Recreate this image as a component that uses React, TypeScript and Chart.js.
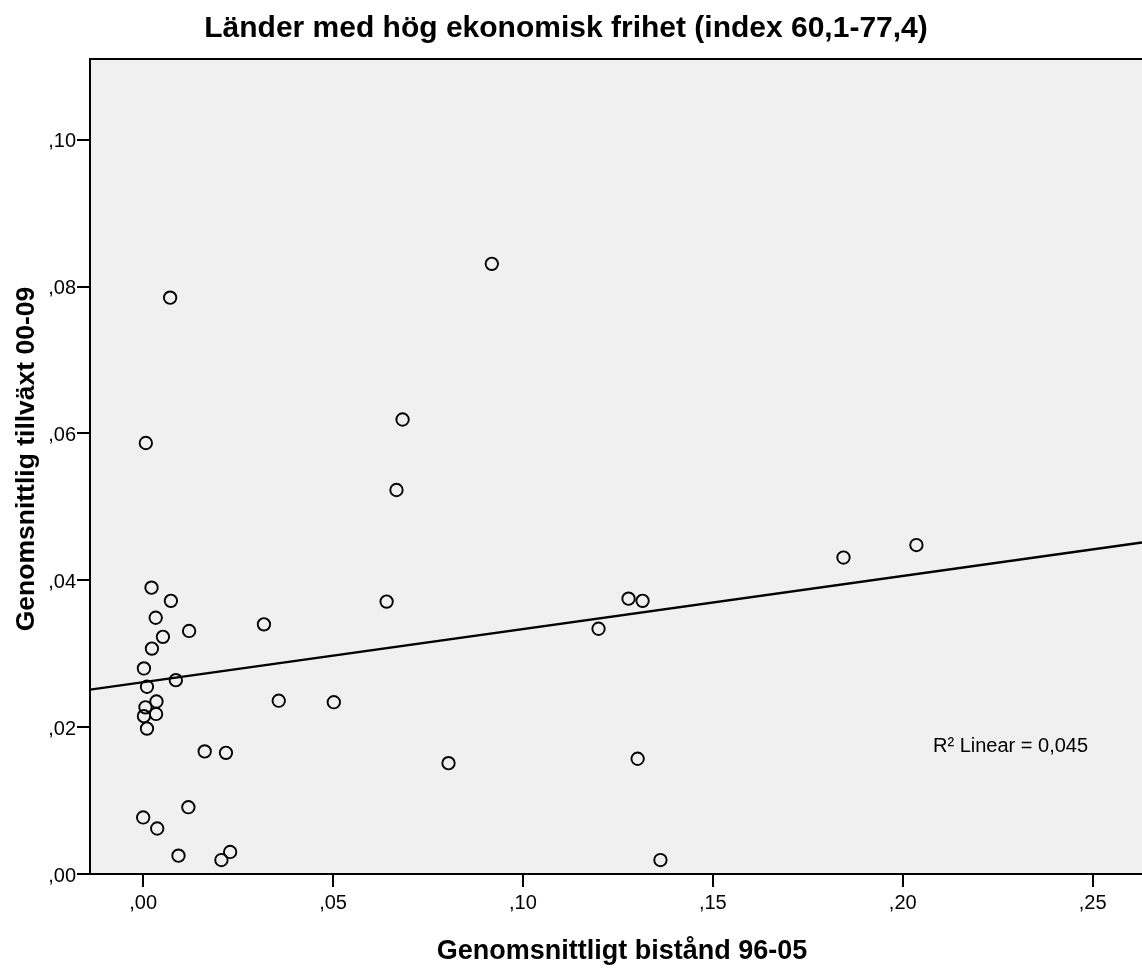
import React, { useEffect, useRef } from "react";
import { Chart, registerables } from "chart.js";

Chart.register(...registerables);

// ---- Data ----
const aidX: number[] = [
  0.0022, 0.0073, 0.0033, 0.0052, 0.0121, 0.0023, 0.0318, 0.0002, 0.001, 0.0086,
  0.0357, 0.0035, 0.0006, 0.0034, 0.0002, 0.001, 0.0162, 0.0218, 0.0119, 0.0,
  0.0037, 0.0093, 0.0229, 0.0206, 0.0007, 0.0071, 0.0918, 0.0683, 0.0667, 0.0641,
  0.0502, 0.0804, 0.1199, 0.1278, 0.1315, 0.1302, 0.1362, 0.1844, 0.2036,
];
const growthY: number[] = [
  0.039, 0.0372, 0.0349, 0.0323, 0.0331, 0.0307, 0.034, 0.028, 0.0255, 0.0264,
  0.0236, 0.0235, 0.0227, 0.0218, 0.0215, 0.0198, 0.0167, 0.0165, 0.0091, 0.0077,
  0.0062, 0.0025, 0.003, 0.0019, 0.0587, 0.0785, 0.0831, 0.0619, 0.0523, 0.0371,
  0.0234, 0.0151, 0.0334, 0.0375, 0.0372, 0.0157, 0.0019, 0.0431, 0.0448,
];
const xTickValues: number[] = [0, 0.05, 0.1, 0.15, 0.2, 0.25];
const yTickValues: number[] = [0, 0.02, 0.04, 0.06, 0.08, 0.1];
const X_MIN = -0.014;
const X_MAX = 0.263;
const Y_MIN = 0;
const Y_MAX = 0.111;

const TITLE = "Länder med hög ekonomisk frihet (index 60,1-77,4)";
const X_TITLE = "Genomsnittligt bistånd 96-05";
const Y_TITLE = "Genomsnittlig tillväxt 00-09";
const R2_LABEL = "R\u00B2 Linear = 0,045";

const FONT = 'Arial, "Liberation Sans", Helvetica, sans-serif';

function fmt(v: number): string {
  const s = Math.abs(v).toFixed(2).replace(/^0\./, ",");
  return (v < 0 ? "-" : "") + s;
}

// least-squares fit from the data
function linearFit(xs: number[], ys: number[]) {
  const n = xs.length;
  const mx = xs.reduce((a, b) => a + b, 0) / n;
  const my = ys.reduce((a, b) => a + b, 0) / n;
  let sxy = 0;
  let sxx = 0;
  for (let i = 0; i < n; i++) {
    sxy += (xs[i] - mx) * (ys[i] - my);
    sxx += (xs[i] - mx) * (xs[i] - mx);
  }
  const slope = sxy / sxx;
  return { slope, intercept: my - slope * mx };
}

const decorPlugin = {
  id: "decor",
  beforeDraw(chart: any) {
    const { ctx, chartArea } = chart;
    ctx.save();
    ctx.fillStyle = "#f0f0f0";
    ctx.fillRect(chartArea.left, chartArea.top, chartArea.right - chartArea.left, chartArea.bottom - chartArea.top);
    ctx.restore();
  },
  afterDraw(chart: any) {
    const { ctx, chartArea } = chart;
    ctx.save();
    // top frame line
    ctx.strokeStyle = "#000";
    ctx.lineWidth = 2;
    ctx.beginPath();
    ctx.moveTo(chartArea.left - 1, chartArea.top);
    ctx.lineTo(chartArea.right, chartArea.top);
    ctx.stroke();

    ctx.fillStyle = "#000";
    // title
    ctx.font = `bold 30px ${FONT}`;
    ctx.textAlign = "center";
    ctx.textBaseline = "middle";
    ctx.fillText(TITLE, 566, 29);
    // x title
    ctx.font = `bold 27px ${FONT}`;
    ctx.fillText(X_TITLE, 622, 952);
    // y title
    ctx.save();
    ctx.translate(27, 459);
    ctx.rotate(-Math.PI / 2);
    ctx.font = `bold 26.5px ${FONT}`;
    ctx.fillText(Y_TITLE, 0, 0);
    ctx.restore();
    // R2 label
    ctx.font = `20px ${FONT}`;
    ctx.textAlign = "left";
    ctx.textBaseline = "alphabetic";
    ctx.fillText(R2_LABEL, 933, 752);
    ctx.restore();
  },
};

export default function App() {
  const ref = useRef<HTMLCanvasElement | null>(null);

  useEffect(() => {
    if (!ref.current) return;
    const fit = linearFit(aidX, growthY);
    const points = aidX.map((x, i) => ({ x, y: growthY[i] }));
    const fitLine = [X_MIN, X_MAX].map((x) => ({ x, y: fit.intercept + fit.slope * x }));

    const chart = new Chart(ref.current, {
      type: "scatter",
      data: {
        datasets: [
          {
            label: "Observed",
            data: points,
            pointStyle: "circle",
            pointRadius: 6.2,
            pointBorderWidth: 1.9,
            pointBorderColor: "#000",
            pointBackgroundColor: "rgba(0,0,0,0)",
            showLine: false,
          },
          {
            label: "Linear",
            type: "line",
            data: fitLine,
            borderColor: "#000",
            borderWidth: 2.3,
            pointRadius: 0,
            fill: false,
          },
        ],
      },
      options: {
        responsive: false,
        animation: false,
        devicePixelRatio: 1,
        layout: { autoPadding: false, padding: { top: 59, left: 0, right: 0, bottom: 0 } },
        plugins: {
          legend: { display: false },
          tooltip: { enabled: false },
          title: { display: false },
        },
        scales: {
          x: {
            type: "linear",
            min: X_MIN,
            max: X_MAX,
            border: { display: true, color: "#000", width: 2 },
            grid: { drawOnChartArea: false, drawTicks: true, tickLength: 13, color: "#000", lineWidth: 2 },
            ticks: {
              font: { size: 20, family: FONT },
              color: "#000",
              padding: 4,
              maxRotation: 0,
              callback: (v: any) => fmt(Number(v)),
            },
            afterBuildTicks: (s: any) => {
              s.ticks = xTickValues.map((value) => ({ value }));
            },
            afterFit: (s: any) => {
              s.height = 94;
            },
          },
          y: {
            type: "linear",
            min: Y_MIN,
            max: Y_MAX,
            border: { display: true, color: "#000", width: 2 },
            grid: { drawOnChartArea: false, drawTicks: true, tickLength: 13, color: "#000", lineWidth: 2 },
            ticks: {
              font: { size: 20, family: FONT },
              color: "#000",
              padding: 1,
              labelOffset: 2,
              callback: (v: any) => fmt(Number(v)),
            },
            afterBuildTicks: (s: any) => {
              s.ticks = yTickValues.map((value) => ({ value }));
            },
            afterFit: (s: any) => {
              s.width = 90;
            },
          },
        },
      },
      plugins: [decorPlugin],
    } as any);

    return () => chart.destroy();
  }, []);

  return (
    <div style={{ position: "fixed", left: 0, top: 0, width: 1142, height: 968, background: "#fff" }}>
      <canvas ref={ref} width={1142} height={968} style={{ display: "block", width: 1142, height: 968 }} />
    </div>
  );
}
